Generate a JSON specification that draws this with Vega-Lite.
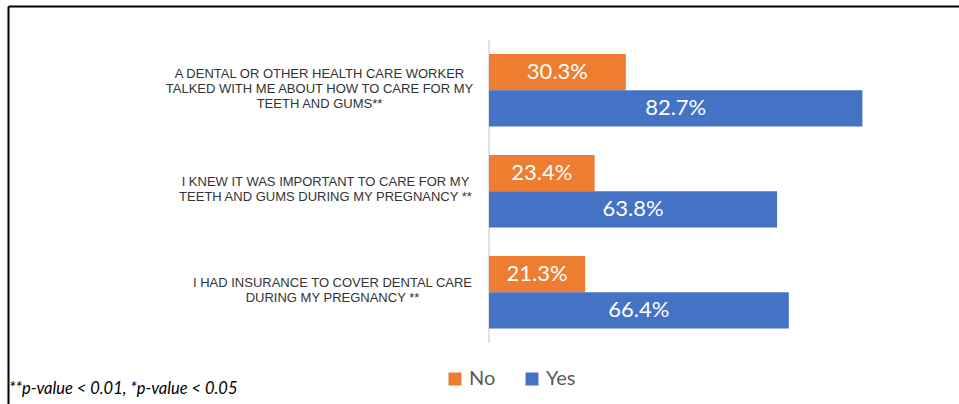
{
  "$schema": "https://vega.github.io/schema/vega-lite/v6.json",
  "width": 951,
  "height": 398,
  "autosize": {"type": "none"},
  "padding": {"left": 8, "top": 6, "right": 0, "bottom": 0},
  "background": "white",
  "config": {"view": {"stroke": null}},
  "title": {
    "text": "**p-value < 0.01, *p-value < 0.05",
    "orient": "top",
    "anchor": "start",
    "frame": "group",
    "offset": 0,
    "baseline": "alphabetic",
    "dy": 404,
    "dx": 1,
    "font": "Lato",
    "fontStyle": "italic",
    "fontWeight": "normal",
    "fontSize": 16.5,
    "color": "#000000"
  },
  "data": {
    "values": [
      {"q": "A DENTAL OR OTHER HEALTH CARE WORKER|TALKED WITH ME ABOUT HOW TO CARE FOR MY|TEETH AND GUMS**", "s": "No", "v": 0.303},
      {"q": "A DENTAL OR OTHER HEALTH CARE WORKER|TALKED WITH ME ABOUT HOW TO CARE FOR MY|TEETH AND GUMS**", "s": "Yes", "v": 0.827},
      {"q": "I KNEW IT WAS IMPORTANT TO CARE FOR MY|TEETH AND GUMS DURING MY PREGNANCY **", "s": "No", "v": 0.234},
      {"q": "I KNEW IT WAS IMPORTANT TO CARE FOR MY|TEETH AND GUMS DURING MY PREGNANCY **", "s": "Yes", "v": 0.638},
      {"q": "I HAD INSURANCE TO COVER DENTAL CARE|DURING MY PREGNANCY **", "s": "No", "v": 0.213},
      {"q": "I HAD INSURANCE TO COVER DENTAL CARE|DURING MY PREGNANCY **", "s": "Yes", "v": 0.664}
    ]
  },
  "layer": [
    {
      "mark": {"type": "tick", "color": "#D9D9D9", "thickness": 1.5, "size": 101},
      "encoding": {
        "x": {"datum": 0, "type": "quantitative", "scale": {"domain": [-1.06534, 1.04097], "nice": false}, "axis": null},
        "y": {"field": "q", "type": "nominal", "sort": null}
      }
    },
    {
      "mark": {"type": "bar"},
      "encoding": {
        "x": {
          "field": "v",
          "type": "quantitative",
          "scale": {"domain": [-1.06534, 1.04097], "nice": false},
          "axis": {"orient": "top", "domain": true, "domainColor": "#000000", "domainWidth": 2, "labels": false, "ticks": false, "grid": false, "title": null}
        },
        "x2": {"datum": 0},
        "y": {
          "field": "q",
          "type": "nominal",
          "sort": null,
          "scale": {"paddingInner": 0.282, "paddingOuter": 0.6114, "align": 0.389, "round": false},
          "axis": {
            "orient": "left",
            "title": null,
            "domain": true,
            "domainColor": "#000000",
            "domainWidth": 2,
            "ticks": false,
            "grid": false,
            "labelPadding": {"condition": [
              {"test": "indexof(datum.label, 'WORKER') >= 0", "value": -311},
              {"test": "indexof(datum.label, 'KNEW') >= 0", "value": -317}
            ], "value": -324},
            "labelAlign": "center",
            "labelBaseline": "middle",
            "labelOffset": {"condition": {"test": "indexof(datum.label, 'WORKER') >= 0", "value": -16}, "value": -9},
            "labelExpr": "split(datum.label, '|')",
            "labelLineHeight": 15,
            "labelFont": "Liberation Sans",
            "labelFontSize": 13,
            "labelColor": "#333333",
            "labelLimit": 0,
            "labelOverlap": false
          }
        },
        "yOffset": {"field": "s", "type": "nominal"},
        "color": {
          "field": "s",
          "type": "nominal",
          "scale": {"domain": ["No", "Yes"], "range": ["#ED7D31", "#4472C4"]},
          "legend": {
            "title": null,
            "orient": "none",
            "direction": "horizontal",
            "legendX": 437,
            "legendY": 363,
            "padding": 0,
            "symbolType": "square",
            "symbolSize": 169,
            "symbolStrokeWidth": 0,
            "symbolOpacity": 1,
            "labelFont": "Lato",
            "labelFontSize": 20,
            "labelColor": "#595959",
            "labelOffset": 4,
            "columnPadding": 26
          }
        }
      }
    },
    {
      "mark": {"type": "text", "color": "#FFFFFF", "font": "Lato", "fontSize": 22, "align": "center", "baseline": "middle"},
      "encoding": {
        "x": {"field": "v", "type": "quantitative", "scale": {"domain": [-2.13068, 2.08194], "nice": false}, "axis": null},
        "y": {"field": "q", "type": "nominal", "sort": null},
        "yOffset": {"field": "s", "type": "nominal"},
        "text": {"field": "v", "type": "quantitative", "format": ".1%"}
      }
    }
  ],
  "resolve": {"scale": {"x": "independent"}}
}
